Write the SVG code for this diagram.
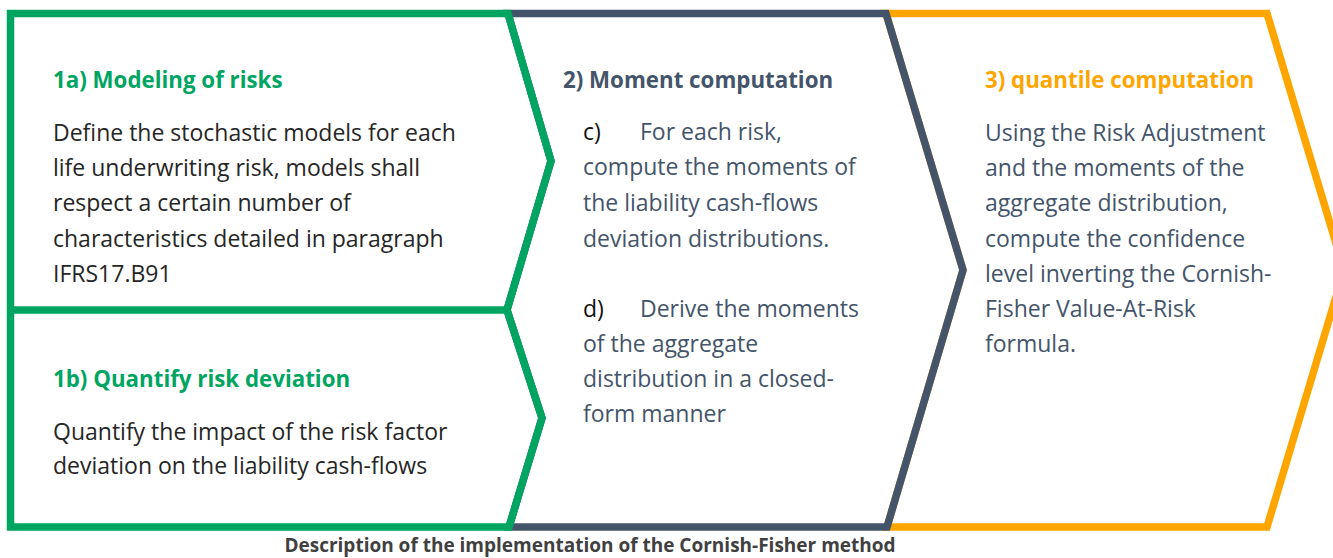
<svg xmlns="http://www.w3.org/2000/svg" width="1333" height="558" viewBox="0 0 1333 558">
  <style>
    .frame { fill: none; stroke-width: 7.5; stroke-linejoin: miter; stroke-miterlimit: 10; }
    .t { font-family: "Open Sans", "Liberation Sans", sans-serif; font-size: 23px; }
    .h { font-family: "Open Sans", "Liberation Sans", sans-serif; font-size: 22.3px; font-weight: bold; }
    .dark { fill: #262626; }
    .slate { fill: #44546A; }
    .ink { fill: #111111; }
    .cap { font-family: "Open Sans", "Liberation Sans", sans-serif; font-size: 19px; font-weight: bold; fill: #404040; }
  </style>
  <rect width="1333" height="558" fill="#ffffff"/>

  <!-- Step 3: quantile computation -->
  <g id="step3">
    <path class="frame" stroke="#FFA500" d="M886,13.5 H1267 L1344,270 L1267,527 H887 L963,270 Z"/>
    <text class="h" x="985" y="88" fill="#FFA500">3) quantile computation</text>
    <text class="t slate">
      <tspan x="985" y="141">Using the Risk Adjustment</tspan>
      <tspan x="985" y="176">and the moments of the</tspan>
      <tspan x="985" y="211">aggregate distribution,</tspan>
      <tspan x="985" y="247">compute the confidence</tspan>
      <tspan x="985" y="282">level inverting the Cornish-</tspan>
      <tspan x="985" y="317">Fisher Value-At-Risk</tspan>
      <tspan x="985" y="352">formula.</tspan>
    </text>
  </g>

  <!-- Step 2: moment computation -->
  <g id="step2">
    <path class="frame" stroke="#44546A" d="M508,13.5 H886 L963,270 L887,527 H509 L542,418 L507,310 L551,161 Z"/>
    <text class="h" x="563" y="88" fill="#44546A">2) Moment computation</text>
    <text class="t ink" x="583" y="140">c)</text>
    <text class="t slate">
      <tspan x="640" y="140">For each risk,</tspan>
      <tspan x="583" y="175">compute the moments of</tspan>
      <tspan x="583" y="211">the liability cash-flows</tspan>
      <tspan x="583" y="247">deviation distributions.</tspan>
    </text>
    <text class="t ink" x="583" y="317">d)</text>
    <text class="t slate">
      <tspan x="640" y="317">Derive the moments</tspan>
      <tspan x="583" y="352">of the aggregate</tspan>
      <tspan x="583" y="387">distribution in a closed-</tspan>
      <tspan x="583" y="422">form manner</tspan>
    </text>
  </g>

  <!-- Step 1a / 1b: modeling and quantifying risks -->
  <g id="step1">
    <path class="frame" stroke="#00A562" d="M10.5,13.5 H508 L551,161 L507,310 L542,418 L509,527 H10.5 Z M10.5,310 H507"/>
  </g>
  <g id="step1a">
    <text class="h" x="53" y="88" fill="#00A562">1a) Modeling of risks</text>
    <text class="t dark">
      <tspan x="53" y="141">Define the stochastic models for each</tspan>
      <tspan x="53" y="176">life underwriting risk, models shall</tspan>
      <tspan x="53" y="211">respect a certain number of</tspan>
      <tspan x="53" y="247">characteristics detailed in paragraph</tspan>
      <tspan x="53" y="282">IFRS17.B91</tspan>
    </text>
  </g>
  <g id="step1b">
    <text class="h" x="53" y="387" fill="#00A562">1b) Quantify risk deviation</text>
    <text class="t dark">
      <tspan x="53" y="440">Quantify the impact of the risk factor</tspan>
      <tspan x="53" y="474">deviation on the liability cash-flows</tspan>
    </text>
  </g>

  <text class="cap" x="590" y="552" text-anchor="middle">Description of the implementation of the Cornish-Fisher method</text>
</svg>
